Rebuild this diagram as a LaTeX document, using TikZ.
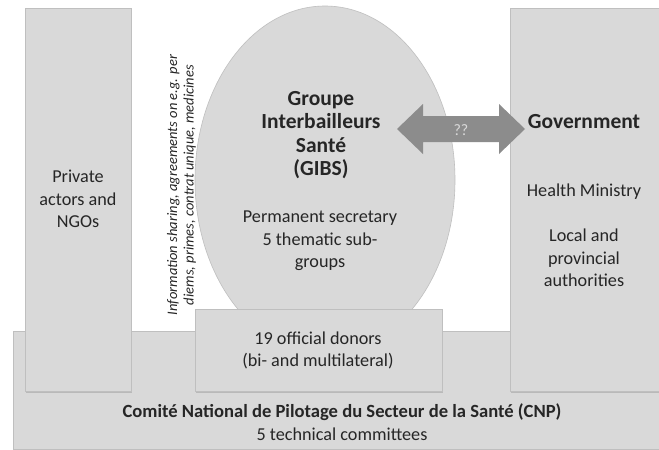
\documentclass[tikz,border=0pt]{standalone}
\usepackage{fontspec}
\setmainfont{Carlito}
\usetikzlibrary{shadows,shapes.geometric,calc}
\definecolor{boxfill}{HTML}{D9D9D9}
\definecolor{boxline}{HTML}{BFBFBF}
\definecolor{arrowfill}{HTML}{8C8C8C}
\definecolor{txt}{HTML}{262626}
\begin{document}
\begin{tikzpicture}[x=1pt,y=-1pt,
  box/.style={draw=boxline, line width=0.6pt, fill=boxfill,
    drop shadow={shadow xshift=0.6pt, shadow yshift=-1.5pt, opacity=0.35},
    inner sep=0, anchor=north west},
  lbl/.style={text=txt, align=center, font=\fontsize{18.2}{22.5}\selectfont, inner sep=0},
  blbl/.style={lbl, font=\fontsize{18.6}{22.5}\selectfont\bfseries},
  tlbl/.style={lbl, font=\fontsize{21.5}{23.5}\selectfont\bfseries},
  ]
\useasboundingbox (0,0) rectangle (659,450);
\fill[white] (0,0) rectangle (659,450);
% shapes
\node[box, minimum width=652pt, minimum height=118pt] (cnp) at (13,331) {};
\node[box, minimum width=106pt, minimum height=383pt] (priv) at (25,8) {};
\node[box, minimum width=160pt, minimum height=383pt] (gov) at (510,8) {};
\node[ellipse, draw=boxline, line width=0.6pt, fill=boxfill, minimum width=260pt, minimum height=348pt, inner sep=0] (gibs) at (325,180) {};
\node[box, minimum width=247pt, minimum height=82pt] (don) at (195,309) {};
% double arrow
\coordinate (al) at (397,129);
\coordinate (ar) at (525,129);
\fill[arrowfill] (al) -- ++(26,-25) -- ++(0,12) -- ($(ar)+(-26,-13)$) -- ++(0,-12) -- (ar)
  -- ++(-26,25) -- ++(0,-12) -- ($(al)+(26,13)$) -- ++(0,12) -- cycle;
\node[text=boxfill, font=\fontsize{16}{18}\selectfont, inner sep=0] (qq) at ($(al)!0.5!(ar)+(0,1)$) {??};
% texts
\node[lbl] (privt) at (78,199) {Private\\actors and\\NGOs};
\node[rotate=90, text=txt, align=center, inner sep=0, font=\fontsize{14.5}{16.5}\selectfont\itshape] (info) at (181.5,185)
  {Information sharing, agreements on e.g. per\\diems, primes, contrat unique, medicines};
\node[tlbl] (gibst) at (321,135) {Groupe\\Interbailleurs\\Santé\\(GIBS)};
\node[lbl] (gibss) at (320,241) {Permanent secretary\\5 thematic sub-\\groups};
\node[tlbl] (govt) at (584,122) {Government};
\node[lbl] (hm) at (584,192) {Health Ministry};
\node[lbl] (loc) at (584,258) {Local and\\provincial\\authorities};
\node[lbl] (dont) at (318,350.5) {19 official donors\\(bi- and multilateral)};
\node[blbl] (cnpt) at (342,412) {Comité National de Pilotage du Secteur de la Santé (CNP)};
\node[lbl] (cnps) at (342,434) {5 technical committees};
\end{tikzpicture}
\end{document}
